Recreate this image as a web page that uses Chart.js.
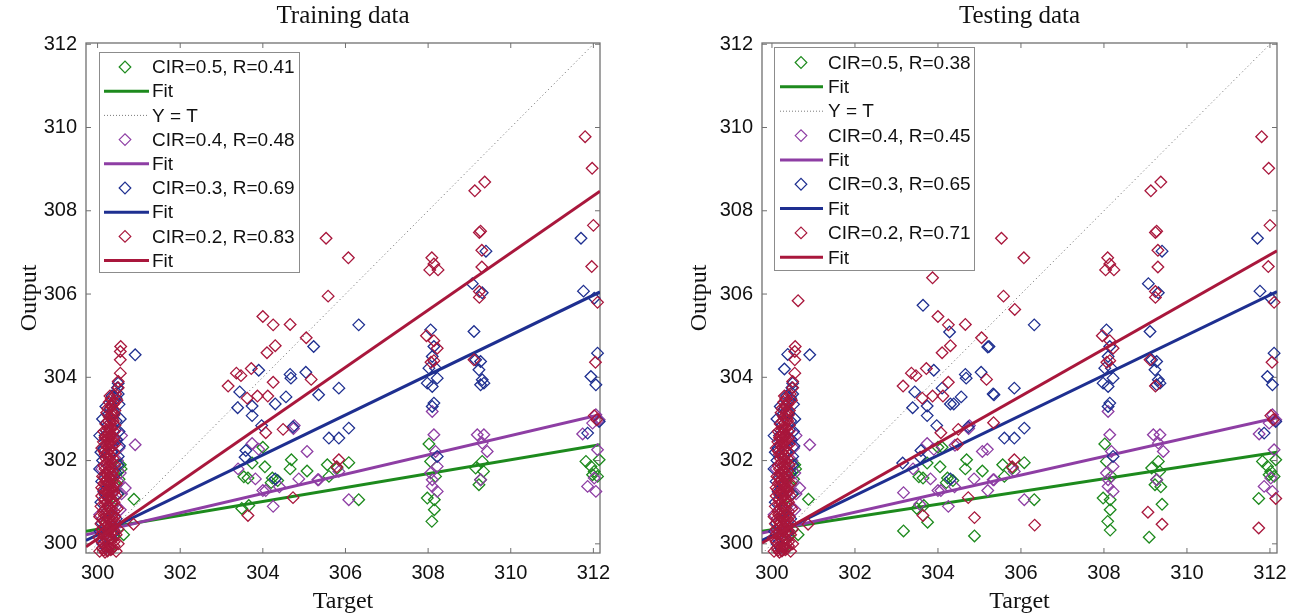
<!DOCTYPE html>
<html><head><meta charset="utf-8">
<script src="https://cdn.jsdelivr.net/npm/chart.js@4.4.1/dist/chart.umd.min.js"></script>
<style>
html,body{margin:0;padding:0;background:#fff;}
#wrap{position:relative;width:1306px;height:616px;overflow:hidden;}
canvas{position:absolute;top:0;}
</style></head><body>
<div id="wrap">
<canvas id="c1" width="653" height="616" style="left:0"></canvas>
<canvas id="c2" width="653" height="616" style="left:653px"></canvas>
</div>
<script>
// ---------- tick labels ----------
const xTicks = [300, 302, 304, 306, 308, 310, 312];
const yTicks = [300, 302, 304, 306, 308, 310, 312];

// ---------- legend labels ----------
const legendTrain = ['CIR=0.5, R=0.41', 'Fit', 'Y = T', 'CIR=0.4, R=0.48', 'Fit', 'CIR=0.3, R=0.69', 'Fit', 'CIR=0.2, R=0.83', 'Fit'];
const legendTest  = ['CIR=0.5, R=0.38', 'Fit', 'Y = T', 'CIR=0.4, R=0.45', 'Fit', 'CIR=0.3, R=0.65', 'Fit', 'CIR=0.2, R=0.71', 'Fit'];

// ---------- fit lines (value at left and right axis limit) ----------
const fitTrainX = [299.72, 312.16];
const fitTrainGreen  = [300.30, 302.38];
const fitTrainPurple = [300.22, 303.10];
const fitTrainBlue   = [300.08, 306.05];
const fitTrainRed    = [299.93, 308.47];
const fitTestX = [299.76, 312.17];
const fitTestGreen  = [300.30, 302.20];
const fitTestPurple = [300.26, 303.03];
const fitTestBlue   = [300.08, 306.06];
const fitTestRed    = [300.02, 307.04];

// ---------- scatter data: training ----------
const trainGreen = [
 [300.30,299.90],[300.40,300.20],[300.63,300.22],[300.88,301.07],[300.55,301.90],[300.50,301.75],[300.57,301.80],[300.45,301.40],[300.20,300.50],[300.35,300.90],[300.50,301.20],[300.52,301.55],
 [304.00,302.32],[303.74,301.94],[304.05,301.85],[303.54,301.61],[303.64,301.58],[304.23,301.58],[304.36,301.52],[304.20,301.47],[304.69,302.02],[304.66,301.80],[305.07,301.75],[303.49,300.85],[303.66,300.92],
 [306.08,301.95],[305.80,301.82],[305.56,301.90],[305.60,301.62],[306.32,301.06],
 [308.02,302.40],[308.06,301.98],[308.18,301.62],[307.98,301.10],[308.15,301.06],[308.15,300.82],[308.09,300.54],
 [309.15,301.82],[309.31,301.98],[309.34,301.74],[309.27,301.54],[309.23,301.42],
 [311.82,301.98],[311.94,301.86],[312.02,301.74],[312.14,302.02],[312.10,301.62],[311.98,301.66]
];
const trainPurple = [
 [300.15,300.10],[300.40,300.30],[300.55,300.82],[300.67,301.34],[300.91,302.38],[300.50,301.50],[300.55,301.70],[300.48,302.00],[300.20,301.20],[300.45,300.90],[300.52,302.30],[300.58,301.20],[300.30,300.60],[300.45,302.50],
 [300.10,301.80],[300.58,302.60],[300.05,300.70],
 [303.74,302.41],[303.90,302.27],[303.40,301.80],[303.82,301.56],[304.00,301.28],[304.07,301.28],[304.25,300.90],[304.40,301.37],[304.76,302.84],[304.74,302.77],[304.87,301.56],[305.07,302.22],[305.33,301.54],[305.84,301.74],[305.35,301.54],[306.08,301.06],
 [308.10,303.18],[308.14,302.62],[308.18,302.22],[308.22,301.86],[308.10,301.54],[308.10,301.38],[308.22,301.26],[308.06,301.70],
 [309.19,302.62],[309.35,302.62],[309.31,302.42],[309.43,302.22],[309.27,301.54],
 [311.74,302.64],[311.98,302.90],[312.06,303.10],[312.14,302.98],[312.10,302.26],[311.86,301.38],[312.06,301.26],[312.02,301.58]
];
const trainBlue = [
 [300.12,300.00],[300.10,300.50],[300.45,300.60],[300.08,301.00],[300.48,301.20],[300.10,301.50],[300.45,301.70],[300.12,302.00],[300.50,302.10],[300.14,302.30],[300.47,302.50],[300.18,302.60],[300.42,302.75],[300.20,302.90],[300.45,302.95],[300.25,303.10],[300.40,303.15],[300.30,303.25],[300.52,303.35],[300.45,303.50],[300.50,303.60],[300.48,303.75],[300.50,303.86],[300.91,304.54],[300.35,302.20],[300.30,301.60],[300.25,300.80],[300.38,300.25],[300.20,299.90],
 [300.15,301.25],[300.05,301.80],[300.50,301.90],[300.05,302.60],[300.12,303.00],[300.35,303.55],[300.52,302.70],[300.08,302.20],[300.55,303.00],[300.20,303.30],[300.06,300.30],[300.53,302.35],
 [303.90,304.17],[303.44,303.65],[303.39,303.27],[303.74,303.31],[303.74,303.08],[303.97,302.84],[304.30,303.36],[304.56,303.53],[304.66,304.07],[304.68,303.98],[305.04,304.12],[303.59,302.24],[303.57,302.08],[304.73,302.81],[304.30,301.56],[305.23,304.74],[305.35,303.58],[305.60,302.54],[305.84,302.54],[305.84,303.74],[306.08,302.78],[306.32,305.26],
 [308.06,305.14],[308.14,304.74],[308.10,304.50],[308.02,304.22],[308.18,304.22],[308.22,303.98],[307.98,303.86],[308.10,303.78],[308.14,303.38],[308.10,303.30],[308.22,302.10],
 [309.11,305.10],[309.15,304.42],[309.27,304.38],[309.23,304.18],[309.31,303.94],[309.27,303.82],[309.35,303.86],[309.31,306.03],[309.07,306.25],[309.40,307.03],
 [311.70,307.34],[311.76,306.07],[312.02,305.90],[312.10,304.58],[311.94,304.02],[312.06,303.82],[312.14,302.94],[311.86,302.66]
];
const trainRed = [
 [300.15,299.85],[300.25,299.85],[300.35,299.88],[300.20,299.95],[300.30,299.98],[300.10,300.05],[300.40,300.05],[300.22,300.12],[300.32,300.15],[300.12,300.25],[300.45,300.22],[300.27,300.30],[300.18,300.40],[300.38,300.42],[300.08,300.48],[300.30,300.55],[300.20,300.65],[300.42,300.65],[300.14,300.78],[300.33,300.80],[300.25,300.92],[300.40,301.00],[300.17,301.05],[300.30,301.15],[300.22,301.28],[300.37,301.32],[300.15,301.45],[300.28,301.50],[300.40,301.60],[300.20,301.70],[300.32,301.82],[300.24,301.95],[300.38,302.05],[300.18,302.15],[300.30,302.28],[300.22,302.42],[300.36,302.50],[300.26,302.65],[300.32,302.80],[300.20,302.88],[300.38,302.95],[300.28,303.05],[300.42,303.20],[300.33,303.30],[300.47,303.45],[300.50,303.90],[300.55,304.10],[300.55,304.42],[300.55,304.62],[300.56,304.74],
 [300.05,299.82],[300.45,299.82],[300.50,300.00],[300.03,300.15],[300.50,300.35],[300.10,300.35],[300.35,300.30],[300.25,300.45],[300.45,300.50],[300.05,300.65],[300.35,300.68],[300.12,300.60],[300.27,300.72],[300.48,300.85],[300.08,300.90],[300.20,300.85],[300.35,300.98],[300.10,301.15],[300.45,301.15],[300.25,301.10],[300.35,301.22],[300.10,301.35],[300.30,301.40],[300.45,301.45],[300.22,301.55],[300.12,301.62],[300.35,301.68],[300.28,301.78],[300.15,301.88],[300.42,301.90],[300.30,302.00],[300.20,302.05],[300.10,302.30],[300.35,302.35],[300.42,302.40],[300.25,302.55],[300.15,302.70],[300.40,302.70],[300.30,302.90],[300.22,303.15],[300.38,303.35],[300.28,303.40],[300.44,303.60],[300.40,303.10],[300.50,303.75],
 [300.18,299.80],[300.28,299.92],[300.40,299.95],[300.15,300.18],[300.28,300.20],[300.22,300.35],[300.35,300.55],[300.15,300.55],[300.25,300.60],[300.40,300.78],[300.22,300.98],[300.30,301.05],[300.18,301.18],[300.28,301.28],[300.20,301.40],[300.35,301.50],[300.25,301.65],[300.18,301.80],[300.35,301.95],[300.25,302.20],[300.32,302.12],[300.28,302.45],[300.20,302.58],[300.34,302.62],[300.25,302.78],[300.35,303.18],[300.30,303.55],[300.36,303.00],[300.42,302.85],[300.14,302.45],
 [300.24,299.83],[300.32,299.86],[300.12,299.90],[300.36,300.10],[300.26,300.08],[300.18,300.28],[300.30,300.38],[300.40,300.32],[300.20,300.50],[300.33,300.47],[300.16,300.70],[300.38,300.60],[300.28,300.85],[300.18,300.95],[300.33,301.08],[300.25,301.22],[300.40,301.25],[300.14,301.30],[300.30,301.33],[300.20,301.50],[300.38,301.40],[300.26,301.45],[300.32,301.60],[300.16,301.60],[300.24,301.75],[300.38,301.75],[300.30,301.90],[300.20,301.92],[300.27,302.08],[300.40,302.20],[300.16,302.22],[300.24,302.32],[300.32,302.45],[300.18,302.55],[300.30,302.60],[300.40,302.55],[300.22,302.72],[300.30,302.75],[300.26,302.95],[300.34,303.10],[300.24,303.25],[300.40,303.42],[300.33,303.48],
 [300.87,300.47],
 [303.16,303.79],[303.36,304.10],[303.47,304.04],[303.62,303.50],[303.72,304.21],[303.87,303.55],[304.00,305.46],[304.10,304.59],[304.12,303.55],[304.25,305.26],[304.25,303.88],[304.30,304.76],[304.07,302.67],[304.49,302.75],[304.66,305.27],[303.64,300.68],[304.73,301.11],[305.05,304.95],[305.17,303.95],[305.53,307.34],[305.58,305.95],[305.79,301.85],[305.84,302.02],[306.07,306.87],
 [308.09,306.87],[308.14,306.72],[308.04,306.58],[308.24,306.58],[307.96,305.00],[308.14,304.88],[308.22,304.70],[308.07,304.36],[308.14,304.40],
 [309.37,308.69],[309.13,308.48],[309.27,307.51],[309.24,307.48],[309.30,307.05],[309.30,306.65],[309.24,306.06],[309.24,305.92],[309.11,304.42],
 [311.80,309.78],[311.97,309.02],[312.00,307.65],[311.96,306.66],[312.10,305.80],[312.05,304.36],[312.02,303.08],[312.08,302.98]
];

// ---------- scatter data: testing (training-like points plus extra ones) ----------
const testGreen = trainGreen.concat([
 [303.17,300.31],[303.75,300.52],[304.88,300.19],[309.09,300.16],[309.40,300.95],[308.15,300.33],[309.37,301.37],[311.73,301.09],[304.10,302.32]
]);
const testPurple = trainPurple.concat([
 [303.17,301.23],[303.56,300.95],[305.19,302.27],[305.20,301.28],[304.41,302.37]
]);
const testBlue = trainBlue.concat([
 [303.64,305.73],[303.15,301.94],[304.28,305.09],[305.20,304.73],[305.33,303.60],[304.38,303.36],[304.10,303.74],[300.38,304.55],[300.30,304.20]
]);
const testRed = trainRed.concat([
 [300.63,305.84],[303.87,306.39],[305.85,305.63],[304.88,300.63],[306.33,300.45],[305.34,302.91],[304.47,302.39],[309.06,300.76],[309.40,300.47],[309.24,303.79],[311.73,300.38],[312.14,301.09]
]);

// ---------- styles ----------
const C = {green:'#1d8a1d', purple:'#8e3ea4', blue:'#1e2f90', red:'#a9173c', yt:'#7a7a7a'};

function pts(arr){ return arr.map(p => ({x:p[0], y:p[1]})); }
function seg(xs, ys){ return xs.map((x,i) => ({x:x, y:ys[i]})); }

function scatterDs(arr, col){
  return {type:'scatter', data:pts(arr), showLine:false, pointStyle:'rectRot', pointRadius:5.8,
    pointBorderWidth:1.3, pointBorderColor:col, pointBackgroundColor:'rgba(0,0,0,0)', borderColor:col, clip:false};
}
function lineDs(xs, ys, col, w, dash){
  return {type:'scatter', data:seg(xs, ys), showLine:true, pointRadius:0, borderColor:col, borderWidth:w,
    borderDash:dash||[], backgroundColor:col, fill:false};
}

const framePlugin = {
  id:'frame',
  beforeDatasetsDraw(chart){
    const {ctx, chartArea:a, scales:{x, y}} = chart;
    ctx.save();
    ctx.strokeStyle = '#707070'; ctx.lineWidth = 1.3;
    ctx.strokeRect(a.left, a.top, a.right - a.left, a.bottom - a.top);
    ctx.beginPath(); ctx.lineWidth = 1;
    x.ticks.forEach(t => { const p = x.getPixelForValue(t.value);
      ctx.moveTo(p, a.bottom); ctx.lineTo(p, a.bottom - 5); ctx.moveTo(p, a.top); ctx.lineTo(p, a.top + 5); });
    y.ticks.forEach(t => { const p = y.getPixelForValue(t.value);
      ctx.moveTo(a.left, p); ctx.lineTo(a.left + 5, p); ctx.moveTo(a.right, p); ctx.lineTo(a.right - 5, p); });
    ctx.stroke(); ctx.restore();
  }
};

const legendPlugin = {
  id:'boxLegend',
  afterDraw(chart, args, o){
    const {ctx, chartArea:a} = chart;
    const x0 = a.left + o.dx, y0 = a.top + o.dy;
    ctx.save();
    ctx.fillStyle = '#fff'; ctx.fillRect(x0, y0, o.w, o.h);
    ctx.strokeStyle = '#8c8c8c'; ctx.lineWidth = 1;
    ctx.strokeRect(x0 + 0.5, y0 + 0.5, o.w, o.h);
    ctx.font = '19px "Liberation Sans", Arial, sans-serif';
    ctx.textBaseline = 'middle'; ctx.fillStyle = '#111';
    o.labels.forEach((lab, i) => {
      const cy = y0 + o.first + i * o.rowH;
      const st = o.styles[i];
      ctx.save();
      if (st.kind === 'marker'){
        ctx.strokeStyle = st.color; ctx.lineWidth = 1.2;
        const mx = x0 + o.mx, r = 5.8;
        ctx.beginPath(); ctx.moveTo(mx - r, cy); ctx.lineTo(mx, cy - r); ctx.lineTo(mx + r, cy); ctx.lineTo(mx, cy + r); ctx.closePath(); ctx.stroke();
      } else {
        ctx.strokeStyle = st.color; ctx.lineWidth = st.w; ctx.setLineDash(st.dash || []);
        ctx.beginPath(); ctx.moveTo(x0 + o.l1, cy); ctx.lineTo(x0 + o.l2, cy); ctx.stroke();
      }
      ctx.restore();
      ctx.fillText(lab, x0 + o.tx, cy + 1);
    });
    ctx.restore();
  }
};

const legendStyles = [
  {kind:'marker', color:C.green}, {kind:'line', color:C.green, w:3}, {kind:'line', color:C.yt, w:1, dash:[1,2]},
  {kind:'marker', color:C.purple}, {kind:'line', color:C.purple, w:3},
  {kind:'marker', color:C.blue}, {kind:'line', color:C.blue, w:3},
  {kind:'marker', color:C.red}, {kind:'line', color:C.red, w:3}
];

function makePanel(id, p){
  const ytX = [p.xmin, p.xmax];
  const datasets = [
    lineDs(p.fitX, p.fitRed, C.red, 3),
    scatterDs(p.red, C.red),
    lineDs(p.fitX, p.fitBlue, C.blue, 3),
    scatterDs(p.blue, C.blue),
    lineDs(p.fitX, p.fitPurple, C.purple, 3),
    scatterDs(p.purple, C.purple),
    lineDs(ytX, ytX, C.yt, 1, [1.2, 2.8]),
    lineDs(p.fitX, p.fitGreen, C.green, 3),
    scatterDs(p.green, C.green)
  ];
  const tickFont = {family:'"Liberation Sans", Arial, sans-serif', size:20};
  const serif = {family:'"Liberation Serif", "Times New Roman", serif', size:24, weight:'normal'};
  const titleFont = {family:'"Liberation Serif", "Times New Roman", serif', size:25, weight:'normal'};
  return new Chart(document.getElementById(id), {
    type:'scatter',
    data:{datasets},
    options:{
      responsive:false, animation:false, devicePixelRatio:1, events:[],
      layout:{padding:{left:0, right:p.padRight, top:0, bottom:0}},
      plugins:{
        legend:{display:false}, tooltip:{enabled:false},
        title:{display:true, text:p.title, fullSize:false, font:titleFont, color:'#111', padding:{top:1, bottom:12}},
        boxLegend:p.legend
      },
      scales:{
        x:{type:'linear', min:p.xmin, max:p.xmax,
          afterBuildTicks:s => { s.ticks = xTicks.map(v => ({value:v})); },
          afterFit:s => { s.height = 63; },
          grid:{display:false, drawTicks:false}, border:{display:false},
          ticks:{padding:8, font:tickFont, color:'#111', maxRotation:0, autoSkip:false, callback:v => String(v)},
          title:{display:true, text:'Target', font:serif, color:'#111', padding:{top:0, bottom:0}}},
        y:{type:'linear', min:299.78, max:312.03,
          afterBuildTicks:s => { s.ticks = yTicks.map(v => ({value:v})); },
          afterFit:s => { s.width = p.yWidth; },
          grid:{display:false, drawTicks:false}, border:{display:false},
          ticks:{padding:9, font:tickFont, color:'#111', autoSkip:false, callback:v => String(v)},
          title:{display:true, text:'Output', font:serif, color:'#111', padding:{top:p.yTitlePad, bottom:0}}}
      }
    },
    plugins:[framePlugin, legendPlugin]
  });
}

makePanel('c1', {
  title:'Training data', xmin:299.72, xmax:312.16, padRight:53, yWidth:86, yTitlePad:15.6,
  fitX:fitTrainX, fitGreen:fitTrainGreen, fitPurple:fitTrainPurple, fitBlue:fitTrainBlue, fitRed:fitTrainRed,
  green:trainGreen, purple:trainPurple, blue:trainBlue, red:trainRed,
  legend:{dx:13, dy:9, w:200, h:220, first:15, rowH:24.2, mx:26, l1:5, l2:50, tx:53, labels:legendTrain, styles:legendStyles}
});
makePanel('c2', {
  title:'Testing data', xmin:299.76, xmax:312.17, padRight:29, yWidth:109, yTitlePad:32.6,
  fitX:fitTestX, fitGreen:fitTestGreen, fitPurple:fitTestPurple, fitBlue:fitTestBlue, fitRed:fitTestRed,
  green:testGreen, purple:testPurple, blue:testBlue, red:testRed,
  legend:{dx:12, dy:4, w:200, h:223, first:15.5, rowH:24.35, mx:27, l1:6, l2:49, tx:54, labels:legendTest, styles:legendStyles}
});
</script>
</body></html>
